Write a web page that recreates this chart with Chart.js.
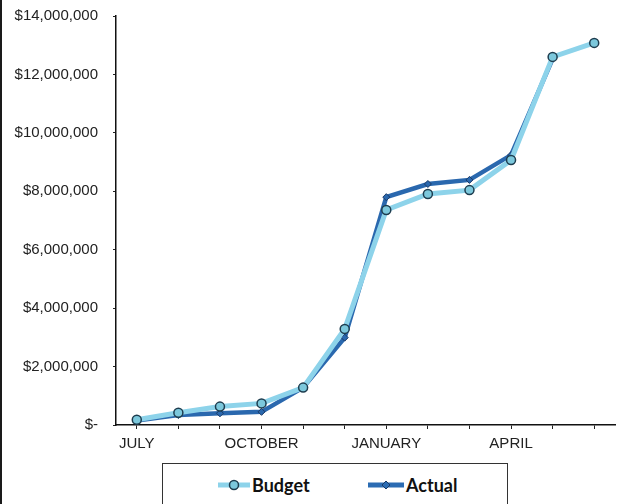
<!DOCTYPE html>
<html>
<head>
<meta charset="utf-8">
<script src="https://cdn.jsdelivr.net/npm/chart.js@4.4.1/dist/chart.umd.min.js"></script>
<style>
    html, body { margin: 0; padding: 0; background: #fff; }
    #wrap { position: relative; width: 621px; height: 504px; overflow: hidden; }
    #chart { position: absolute; left: 0; top: 0; }
    #edge { position: absolute; left: 0; top: 0; width: 2px; height: 504px; background: #1a1a1a; }
    #legend {
        position: absolute; left: 162px; top: 463px; width: 346px; height: 60px;
        border: 1.5px solid #333; box-sizing: border-box; background: #fff;
        font-family: Lato, "Open Sans", sans-serif; font-weight: bold; font-size: 18px; color: #111;
    }
    .item { position: absolute; top: 10px; display: flex; align-items: center; }
    .item svg { margin-right: 1px; }
</style>
</head>
<body>
<div id="wrap">
    <canvas id="chart" width="621" height="504"></canvas>
    <div id="edge"></div>
    <div id="legend">
        <div class="item" style="left:54px">
            <svg width="34" height="14"><line x1="1" y1="7" x2="33" y2="7" stroke="#8dd3ea" stroke-width="5"/><circle cx="17" cy="7" r="4.5" fill="#7cc8dc" stroke="#1e3d4f" stroke-width="1.5"/></svg>
            <span>Budget</span>
        </div>
        <div class="item" style="left:204px">
            <svg width="38" height="14"><line x1="1" y1="7" x2="37" y2="7" stroke="#2b6cb3" stroke-width="5"/><polygon points="19,3 23,7 19,11 15,7" fill="#2b6cb3" stroke="#1b3a66" stroke-width="1"/></svg>
            <span>Actual</span>
        </div>
    </div>
</div>
<script>
// Monthly cumulative totals, fiscal year July - June
const months = ['JULY', 'AUGUST', 'SEPTEMBER', 'OCTOBER', 'NOVEMBER', 'DECEMBER',
                'JANUARY', 'FEBRUARY', 'MARCH', 'APRIL', 'MAY', 'JUNE'];
const budget = [180000, 420000, 630000, 740000, 1280000, 3290000,
                7360000, 7910000, 8040000, 9070000, 12600000, 13080000];
const actual = [150000, 340000, 400000, 450000, 1280000, 2990000,
                7800000, 8250000, 8390000, 9240000, 12530000, null];
const yTicks = [0, 2000000, 4000000, 6000000, 8000000, 10000000, 12000000, 14000000];

const ctx = document.getElementById('chart').getContext('2d');
new Chart(ctx, {
    type: 'line',
    data: {
        labels: months,
        datasets: [{
            label: 'Budget',
            data: budget,
            borderColor: '#8dd3ea',
            borderWidth: 5,
            pointStyle: 'circle',
            pointRadius: 4.5,
            pointBorderWidth: 1.5,
            pointBackgroundColor: '#7cc8dc',
            pointBorderColor: '#1e3d4f',
            tension: 0
        }, {
            label: 'Actual',
            data: actual,
            borderColor: '#2a68ae',
            borderWidth: 4.5,
            pointStyle: 'rectRot',
            pointRadius: 3.5,
            pointBorderWidth: 1,
            pointBackgroundColor: '#2a68ae',
            pointBorderColor: '#1b3a66',
            tension: 0
        }]
    },
    options: {
        responsive: false,
        animation: false,
        layout: { padding: { top: 16, right: 2, left: 0, bottom: 0 } },
        plugins: {
            legend: { display: false },
            tooltip: { enabled: false }
        },
        scales: {
            x: {
                offset: true,
                grid: { display: true, drawOnChartArea: false, drawTicks: true, tickLength: 4, color: '#222' },
                border: { color: '#111', width: 1.5 },
                ticks: {
                    autoSkip: false,
                    maxRotation: 0,
                    padding: 6,
                    color: '#222',
                    font: { family: 'Liberation Sans, Arial', size: 15 },
                    callback: function(value, index) {
                        return index % 3 === 0 ? months[index] : '';
                    }
                },
                afterFit: function(scale) { scale.height = 79; }
            },
            y: {
                min: 0,
                max: 14000000,
                afterBuildTicks: function(scale) {
                    scale.ticks = yTicks.map(v => ({ value: v }));
                },
                grid: { display: true, drawOnChartArea: false, drawTicks: true, tickLength: 3, color: '#222' },
                border: { color: '#111', width: 1.5 },
                ticks: {
                    padding: 15,
                    color: '#222',
                    font: { family: 'Liberation Sans, Arial', size: 15 },
                    callback: function(value) {
                        return value === 0 ? '$-' : '$' + value.toLocaleString('en-US');
                    }
                },
                afterFit: function(scale) {
                    scale.width = 116;
                    scale.paddingTop = 0;
                    scale.paddingBottom = 0;
                }
            }
        }
    }
});
</script>
</body>
</html>
